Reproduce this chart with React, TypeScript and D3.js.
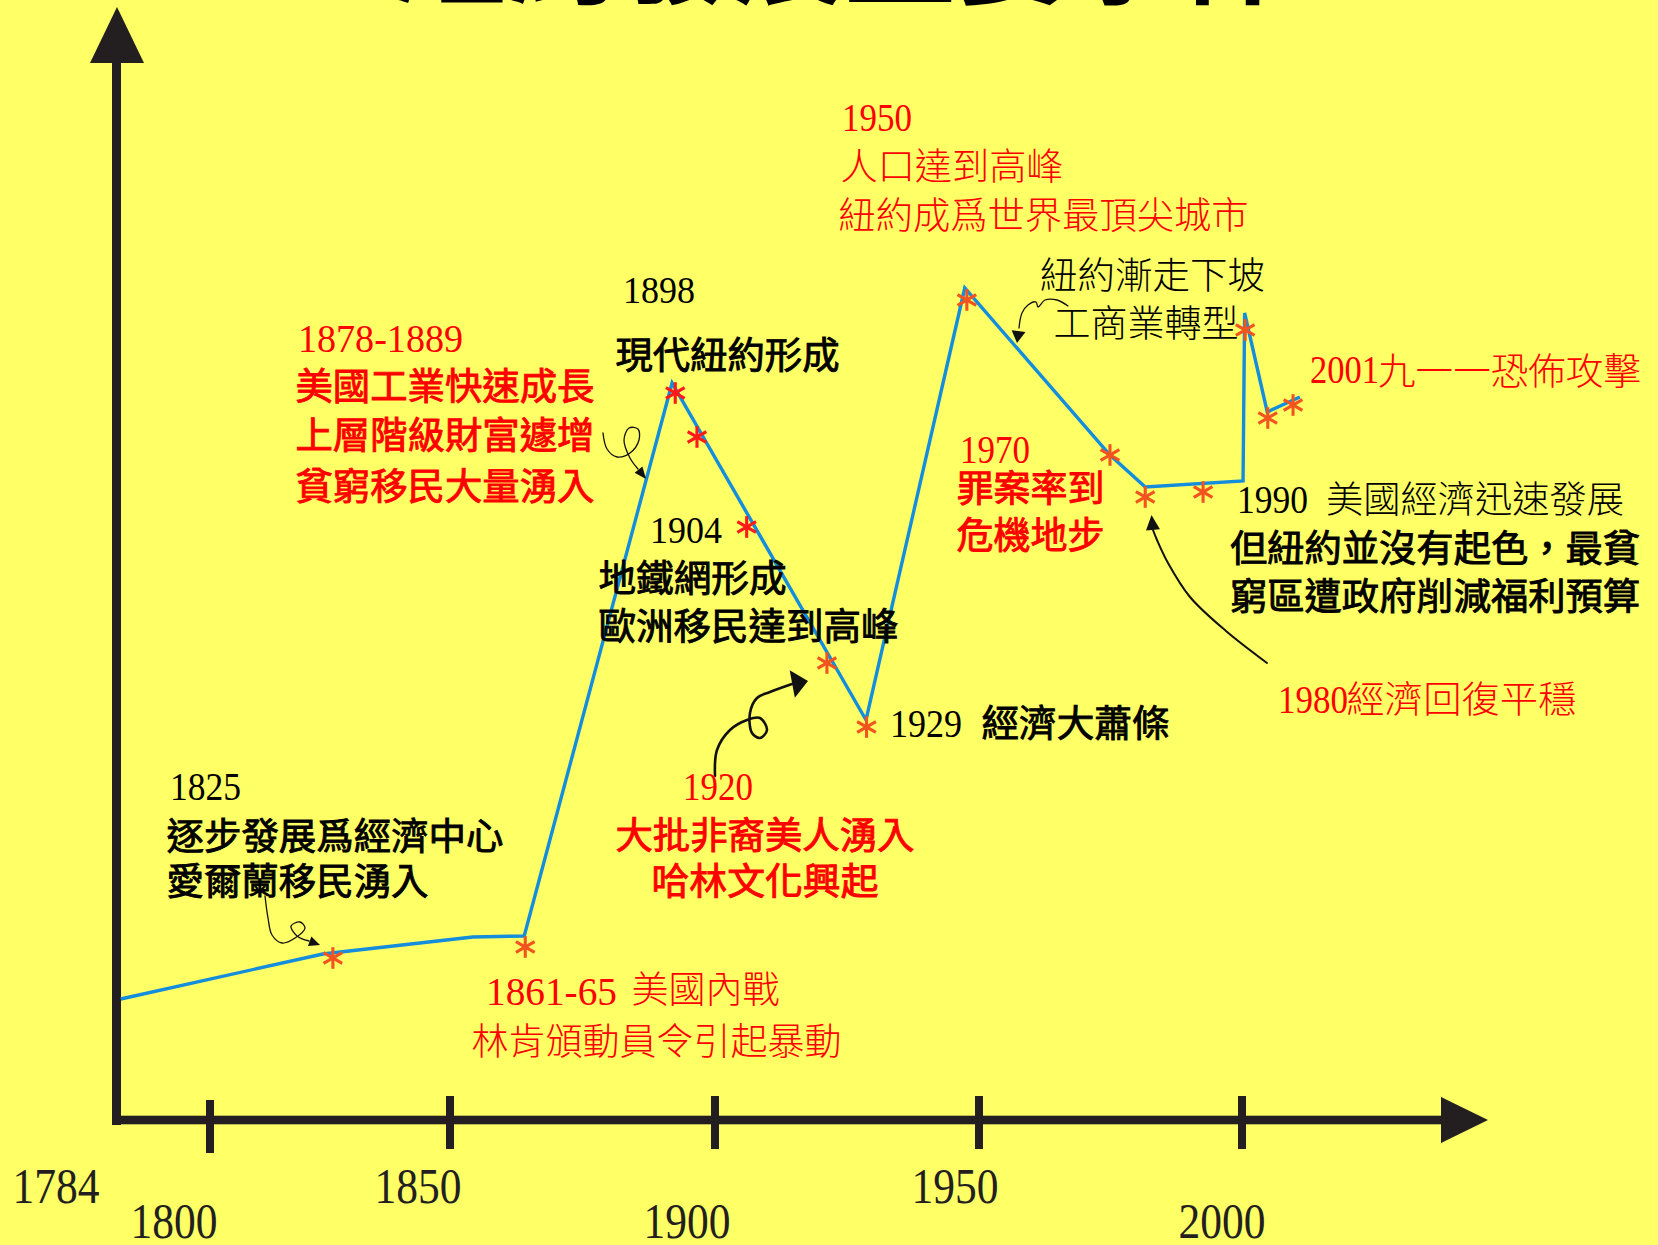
import React from "react";
import * as d3 from "d3";

// ---------------- data ----------------
const axisYears = [1784, 1800, 1850, 1900, 1950, 2000];
const tickYears = [1800, 1850, 1900, 1950, 2000];
const tickLabelYears = ["1784", "1800", "1850", "1900", "1950", "2000"];
const tickLabelRow = [0, 1, 0, 1, 0, 1];

// blue trend line (year, index value)
const lineYears = [1784.8, 1823.5, 1854.3, 1864.0, 1891.9, 1928.6, 1947.3, 1974.9, 1981.6, 2000.2, 2000.5, 2004.8, 2011.0];
const lineValues = [12.1, 16.6, 18.3, 18.4, 73.7, 40.0, 83.2, 66.5, 63.3, 63.9, 80.7, 70.8, 72.3];

// asterisk markers
const markerYears = [1825.6, 1864.2, 1892.5, 1896.6, 1906.0, 1921.2, 1928.7, 1947.7, 1974.9, 1981.6, 1992.6, 2000.6, 2004.9, 2009.7];
const markerValues = [16.2, 17.3, 72.7, 68.3, 59.3, 45.7, 39.3, 82.0, 66.5, 62.3, 62.8, 79.0, 70.2, 71.5];
const markerTones = ["o", "o", "r", "r", "r", "o", "o", "o", "o", "o", "o", "o", "o", "o"];

const titleText = "紐約發展重要事件";

// annotation lines: text, left x, baseline y, advance width, kind, colour
type Note = { t: string; x: number; y: number; w: number; k: "num" | "bold" | "thin"; c: "k" | "r"; fs?: number };
const notes: Note[] = [
  { t: "1825", x: 170, y: 800, w: 71, k: "num", c: "k" },
  { t: "逐步發展爲經濟中心", x: 166.5, y: 850, w: 337, k: "bold", c: "k" },
  { t: "愛爾蘭移民湧入", x: 166.5, y: 895, w: 262, k: "bold", c: "k" },

  { t: "1861-65", x: 486, y: 1005, w: 131, k: "num", c: "r" },
  { t: "美國內戰", x: 631.5, y: 1003, w: 148, k: "thin", c: "r" },
  { t: "林肯頒動員令引起暴動", x: 471.5, y: 1055, w: 370, k: "thin", c: "r" },

  { t: "1878-1889", x: 298, y: 352, w: 165, k: "num", c: "r" },
  { t: "美國工業快速成長", x: 295.5, y: 400, w: 299, k: "bold", c: "r" },
  { t: "上層階級財富遽增", x: 295.5, y: 449, w: 299, k: "bold", c: "r" },
  { t: "貧窮移民大量湧入", x: 295.5, y: 500, w: 299, k: "bold", c: "r" },

  { t: "1898", x: 623, y: 303, w: 72, k: "num", c: "k", fs: 38 },
  { t: "現代紐約形成", x: 615.5, y: 369, w: 224, k: "bold", c: "k" },

  { t: "1904", x: 650, y: 543, w: 72, k: "num", c: "k", fs: 38 },
  { t: "地鐵網形成", x: 598.5, y: 592, w: 188, k: "bold", c: "k" },
  { t: "歐洲移民達到高峰", x: 598.5, y: 640, w: 300, k: "bold", c: "k" },

  { t: "1929", x: 890, y: 737, w: 72, k: "num", c: "k" },
  { t: "經濟大蕭條", x: 981.5, y: 737, w: 188, k: "bold", c: "k" },

  { t: "1920", x: 683, y: 800, w: 70, k: "num", c: "r" },
  { t: "大批非裔美人湧入", x: 615.5, y: 849, w: 299, k: "bold", c: "r" },
  { t: "哈林文化興起", x: 651.5, y: 895, w: 227, k: "bold", c: "r" },

  { t: "1950", x: 842, y: 131, w: 70, k: "num", c: "r" },
  { t: "人口達到高峰", x: 840.5, y: 180, w: 223, k: "thin", c: "r" },
  { t: "紐約成爲世界最頂尖城市", x: 838.5, y: 229, w: 410, k: "thin", c: "r" },

  { t: "紐約漸走下坡", x: 1040, y: 289, w: 225, k: "thin", c: "k" },
  { t: "工商業轉型", x: 1053.5, y: 337, w: 185, k: "thin", c: "k" },

  { t: "1970", x: 960, y: 463, w: 70, k: "num", c: "r" },
  { t: "罪案率到", x: 956.5, y: 502, w: 148, k: "bold", c: "r" },
  { t: "危機地步", x: 956.5, y: 549, w: 148, k: "bold", c: "r" },

  { t: "1990", x: 1237, y: 513, w: 71, k: "num", c: "k" },
  { t: "美國經濟迅速發展", x: 1326, y: 513, w: 298, k: "thin", c: "k" },
  { t: "但紐約並沒有起色，最貧", x: 1230, y: 562, w: 410, k: "bold", c: "k" },
  { t: "窮區遭政府削減福利預算", x: 1230, y: 610, w: 410, k: "bold", c: "k" },

  { t: "2001", x: 1310, y: 383, w: 69, k: "num", c: "r" },
  { t: "九一一恐佈攻擊", x: 1378, y: 385, w: 263, k: "thin", c: "r" },

  { t: "1980", x: 1278, y: 713, w: 70, k: "num", c: "r" },
  { t: "經濟回復平穩", x: 1346.5, y: 713, w: 230, k: "thin", c: "r" },
];

// curly hand-drawn annotation arrows (pixel layout)
type Arrow = { pts: [number, number][]; tip: [number, number]; len: number; hw: number; sw: number };
const arrows: Arrow[] = [
  { pts: [[265, 896], [268, 918], [272, 935], [282, 943], [295, 938], [305, 928], [300, 922], [291, 926], [297, 936], [309, 941]], tip: [320, 945], len: 11, hw: 5, sw: 1.3 },
  { pts: [[603, 433], [607, 449], [617, 457], [630, 453], [639, 440], [638, 429], [629, 428], [624, 440], [630, 458], [638, 469]], tip: [646, 479], len: 12, hw: 5, sw: 1.3 },
  { pts: [[715, 776], [717, 750], [730, 730], [747, 720], [760, 718], [767, 730], [760, 738], [752, 733], [750, 713], [757, 698], [770, 692], [792, 684]], tip: [808, 681], len: 16, hw: 14, sw: 2.6 },
  { pts: [[1068, 306], [1057, 300], [1045, 300], [1038, 307], [1036, 302], [1028, 305], [1022, 313], [1019, 328]], tip: [1017, 343], len: 12, hw: 7, sw: 1.3 },
  { pts: [[1267, 663], [1226, 631], [1190, 597], [1168, 563], [1157, 540], [1153, 530]], tip: [1151.5, 515], len: 15, hw: 7, sw: 2 },
];

const SERIF = "'Liberation Serif', 'DejaVu Serif', serif";
const CJK = "'Noto Sans CJK TC', 'Noto Sans CJK SC', sans-serif";
const RED = "#ff0000";
const BLACK = "#000000";
const AXIS = "#231f20";
const BLUE = "#138ddc";

function head(tip: [number, number], from: [number, number], len: number, hw: number) {
  const dx = tip[0] - from[0], dy = tip[1] - from[1];
  const d = Math.hypot(dx, dy) || 1;
  const ux = dx / d, uy = dy / d;
  const bx = tip[0] - ux * len, by = tip[1] - uy * len;
  return `${tip[0]},${tip[1]} ${bx - uy * hw},${by + ux * hw} ${bx + uy * hw},${by - ux * hw}`;
}

export default function App() {
  const W = 1658, H = 1245;
  const x = d3.scaleLinear().domain(axisYears).range([116, 210, 450, 715, 979, 1242]);
  const y = d3.scaleLinear().domain([0, 100]).range([1120, 120]);

  const lineGen = d3
    .line<number>()
    .x((_, i) => x(lineYears[i]))
    .y((d) => y(d));
  const linePath = lineGen(lineValues) || "";

  const curve = d3.line<[number, number]>().curve(d3.curveCatmullRom.alpha(0.5));

  const labelShift = (yr: number) => (yr === 1784 ? -60 : -36 + (yr - 1800) * 0.08);

  const r = 10.8;
  const arms = [90, 30, 150].map((a) => [Math.cos((a * Math.PI) / 180) * r, Math.sin((a * Math.PI) / 180) * r]);

  return (
    <svg
      width={W}
      height={H}
      viewBox={`0 0 ${W} ${H}`}
      style={{ position: "absolute", left: 0, top: 0, display: "block" }}
    >
      <rect x={0} y={0} width={W} height={H} fill="#ffff66" />

      {/* title (cut off at top edge) */}
      <text
        x={396}
        y={-4}
        fontFamily={CJK}
        fontWeight={700}
        fontSize={104}
        fill={BLACK}
        textLength={896}
        lengthAdjust="spacingAndGlyphs"
      >
        {titleText}
      </text>

      {/* axes */}
      <rect x={112} y={60} width={9} height={1065} fill={AXIS} />
      <polygon points="117,7 144,63 90,63" fill={AXIS} />
      <rect x={112} y={1115.7} width={1333} height={8.6} fill={AXIS} />
      <polygon points="1441,1097 1488,1120 1441,1143" fill={AXIS} />
      {tickYears.map((yr) => (
        <rect key={yr} x={x(yr) - 4} y={yr === 1800 ? 1100 : 1096} width={8} height={53} fill={AXIS} />
      ))}
      {tickLabelYears.map((lab, i) => {
        const yr = +lab;
        const w = 87;
        const cx = x(yr) + labelShift(yr);
        return (
          <text
            key={lab}
            x={cx - w / 2}
            y={tickLabelRow[i] === 0 ? 1203 : 1238}
            fontFamily={SERIF}
            fontSize={51}
            fill={AXIS}
            textLength={w}
            lengthAdjust="spacingAndGlyphs"
          >
            {lab}
          </text>
        );
      })}

      {/* trend line */}
      <path d={linePath} fill="none" stroke={BLUE} strokeWidth={3.4} strokeLinejoin="miter" />

      {/* asterisks */}
      {markerYears.map((yr, i) => (
        <g key={i} transform={`translate(${x(yr)},${y(markerValues[i])})`} stroke={markerTones[i] === "r" ? "#ff1a1a" : "#f1541f"} strokeWidth={3.1}>
          {arms.map(([dx, dy], j) => (
            <line key={j} x1={-dx} y1={-dy} x2={dx} y2={dy} />
          ))}
        </g>
      ))}

      {/* annotation arrows */}
      {arrows.map((a, i) => (
        <g key={i}>
          <path d={curve(a.pts) || ""} fill="none" stroke="#111" strokeWidth={a.sw} strokeLinecap="round" />
          <polygon points={head(a.tip, a.pts[a.pts.length - 1], a.len, a.hw)} fill="#111" />
        </g>
      ))}

      {/* annotation text */}
      {notes.map((n, i) => {
        const col = n.c === "r" ? RED : BLACK;
        return (
          <text
            key={i}
            x={n.x}
            y={n.y}
            fontFamily={n.k === "num" ? SERIF : CJK}
            fontWeight={n.k === "thin" ? 300 : 400}
            fontSize={n.fs ?? (n.k === "num" ? 40 : 37)}
            fill={col}
            stroke={n.k === "bold" ? col : "none"}
            strokeWidth={n.k === "bold" ? 0.9 : 0}
            textLength={n.w}
            lengthAdjust="spacingAndGlyphs"
          >
            {n.t}
          </text>
        );
      })}
    </svg>
  );
}
